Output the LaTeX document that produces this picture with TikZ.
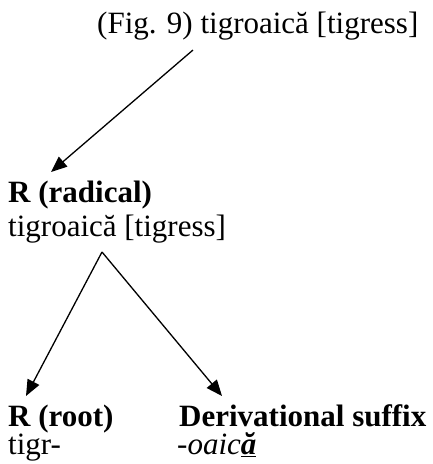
\documentclass[tikz,border=0pt]{standalone}
\usepackage{fontspec}
\setmainfont{Liberation Serif}
\usetikzlibrary{arrows.meta}
\tikzset{
  txt/.style={inner sep=0pt, anchor=base west, font=\fontsize{31}{34}\selectfont},
  head/.style={txt, text depth=0pt},
  sub/.style={txt, text height=21pt},
  arr/.style={line width=1.3pt, -{Triangle[length=16pt,width=13pt]}}
}
\begin{document}
\begin{tikzpicture}[x=1pt,y=-1pt]
\useasboundingbox (0,0) rectangle (433,464);
\node[txt] (top) at (97,33) {(Fig. 9) tigroaică [tigress]};
\node[head] (rad) at (8,202) {\textbf{R (radical)}};
\node[sub] (radt) at (8,236) {tigroaică [tigress]};
\node[head] (root) at (8,426) {\textbf{R (root)}};
\node[sub] (roott) at (8,454) {tigr-};
\node[head] (suf) at (179,426) {\textbf{Derivational suffix}};
\node[sub] (suft) at (177,454) {\textit{-oaic\underline{\textbf{ă}}}};
\coordinate (s1) at (193,50);
\coordinate (e1) at (51,172);
\coordinate (apex) at (102,252);
\coordinate (e2) at (26,396);
\coordinate (e3) at (222,396);
\draw[arr] (s1) -- (e1);
\draw[arr] (apex) -- (e2);
\draw[arr] (apex) -- (e3);
\end{tikzpicture}
\end{document}
